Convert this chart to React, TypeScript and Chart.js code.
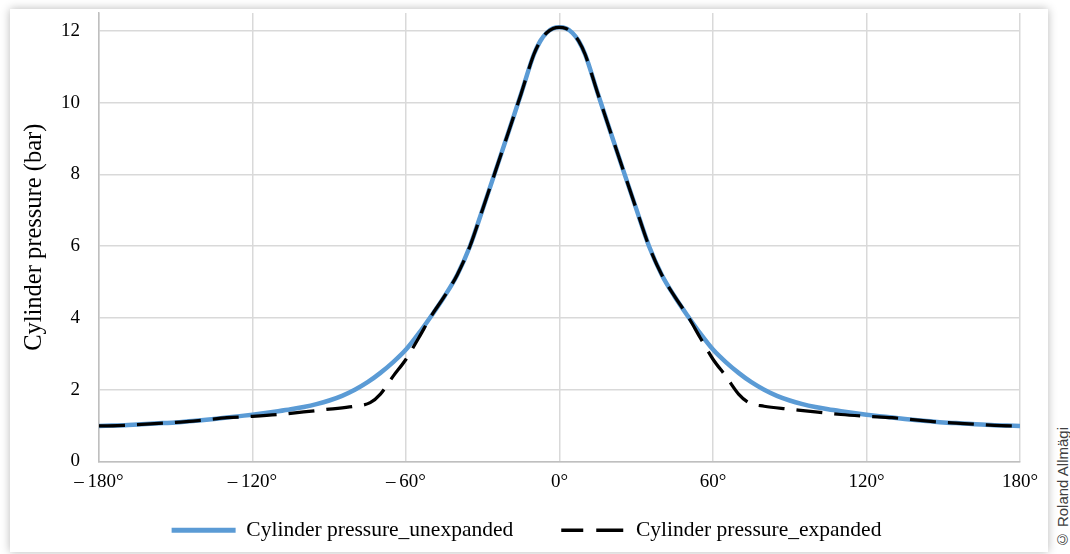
import React, { useEffect, useRef } from "react";
import { Chart, registerables } from "chart.js";

Chart.register(...registerables);

// Crank angle (degrees) for the unexpanded curve
const angles: number[] = [
  -180, -175, -170, -165, -160, -155, -150, -145, -140, -135, -130, -125, -120,
  -115, -110, -105, -100, -95, -90, -85, -80, -75, -70, -65, -60, -55, -50,
  -45, -40, -35, -30, -25, -20, -15, -10, -7.5, -5, -2.5, 0, 2.5, 5, 7.5, 10,
  15, 20, 25, 30, 35, 40, 45, 50, 55, 60, 65, 70, 75, 80, 85, 90, 95, 100, 105,
  110, 115, 120, 125, 130, 135, 140, 145, 150, 155, 160, 165, 170, 175, 180,
];

// Cylinder pressure_unexpanded (bar)
const unexpandedValues: number[] = [
  0.99, 1.0, 1.01, 1.03, 1.05, 1.07, 1.09, 1.12, 1.15, 1.185, 1.225, 1.265,
  1.305, 1.35, 1.4, 1.455, 1.52, 1.6, 1.7, 1.83, 2.0, 2.21, 2.47, 2.77, 3.12,
  3.57, 4.07, 4.6, 5.2, 6.0, 7.04, 8.1, 9.17, 10.25, 11.35, 11.72, 11.95,
  12.07, 12.1, 12.07, 11.95, 11.72, 11.35, 10.25, 9.17, 8.1, 7.04, 6.0, 5.2,
  4.6, 4.07, 3.57, 3.12, 2.77, 2.47, 2.21, 2.0, 1.83, 1.7, 1.6, 1.52, 1.455,
  1.4, 1.35, 1.305, 1.265, 1.225, 1.185, 1.15, 1.12, 1.09, 1.07, 1.05, 1.03,
  1.01, 1.0, 0.99,
];

// Crank angle (degrees) for the expanded curve
const expandedAngles: number[] = [
  -180, -170, -160, -150, -140, -130, -120, -110, -100, -90, -80, -74, -70,
  -65, -60, -55, -50, -45, -40, -35, -30, -25, -20, -15, -10, -7.5, -5, -2.5,
  0, 2.5, 5, 7.5, 10, 15, 20, 25, 30, 35, 40, 45, 50, 55, 60, 65, 70, 74, 80,
  90, 100, 110, 120, 130, 140, 150, 160, 170, 180,
];

// Cylinder pressure_expanded (bar)
const expandedValues: number[] = [
  0.99, 1.01, 1.05, 1.09, 1.15, 1.22, 1.26, 1.31, 1.38, 1.46, 1.54, 1.64, 1.88,
  2.38, 2.85, 3.45, 4.07, 4.6, 5.2, 6.0, 7.04, 8.1, 9.17, 10.25, 11.35, 11.72,
  11.95, 12.07, 12.1, 12.07, 11.95, 11.72, 11.35, 10.25, 9.17, 8.1, 7.04, 6.0,
  5.2, 4.6, 4.07, 3.45, 2.85, 2.38, 1.88, 1.64, 1.54, 1.46, 1.38, 1.31, 1.26,
  1.22, 1.15, 1.09, 1.05, 1.01, 0.99,
];

const xTicks: number[] = [-180, -120, -60, 0, 60, 120, 180];
const yTicks: number[] = [0, 2, 4, 6, 8, 10, 12];

const seriesNames: string[] = [
  "Cylinder pressure_unexpanded",
  "Cylinder pressure_expanded",
];

const SERIF = "'Liberation Serif', 'Times New Roman', serif";
const BLUE = "#5B9BD5";

function formatAngle(v: number): string {
  if (v < 0) return "\u2013\u2009" + Math.abs(v) + "\u00B0";
  return v + "\u00B0";
}

export default function App() {
  const canvasRef = useRef<HTMLCanvasElement | null>(null);

  useEffect(() => {
    const canvas = canvasRef.current;
    if (!canvas) return;
    const chart = new Chart(canvas, {
      type: "line",
      data: {
        datasets: [
          {
            label: seriesNames[0],
            data: angles.map((a, i) => ({ x: a, y: unexpandedValues[i] })),
            borderColor: BLUE,
            backgroundColor: BLUE,
            borderWidth: 4.5,
            pointRadius: 0,
            cubicInterpolationMode: "monotone",
            fill: false,
            order: 2,
          },
          {
            label: seriesNames[1],
            data: expandedAngles.map((a, i) => ({ x: a, y: expandedValues[i] })),
            borderColor: "#000000",
            backgroundColor: "#000000",
            borderWidth: 3.25,
            borderDash: [26, 12],
            pointRadius: 0,
            cubicInterpolationMode: "monotone",
            fill: false,
            order: 1,
          },
        ],
      },
      options: {
        responsive: false,
        animation: false,
        devicePixelRatio: 1,
        layout: { padding: { top: 4, right: 28, left: 23, bottom: 0 } },
        plugins: {
          tooltip: { enabled: false },
          legend: {
            display: true,
            position: "bottom",
            title: {
              display: true,
              text: "",
              font: { family: SERIF, size: 10, lineHeight: 1 },
              padding: { top: 0, bottom: -30 },
            },
            labels: {
              usePointStyle: true,
              pointStyleWidth: 64,
              padding: 48,
              color: "#000",
              font: { family: SERIF, size: 21.5 },
              generateLabels: () => [
                {
                  text: seriesNames[0],
                  strokeStyle: BLUE,
                  fillStyle: BLUE,
                  lineWidth: 5,
                  lineDash: [],
                  pointStyle: "line",
                  hidden: false,
                  datasetIndex: 0,
                  fontColor: "#000",
                } as any,
                {
                  text: seriesNames[1],
                  strokeStyle: "#000",
                  fillStyle: "#000",
                  lineWidth: 3.5,
                  lineDash: [27, 13],
                  lineDashOffset: 5,
                  pointStyle: "line",
                  hidden: false,
                  datasetIndex: 1,
                  fontColor: "#000",
                } as any,
              ],
            },
          },
        },
        scales: {
          x: {
            type: "linear",
            min: -180,
            max: 180,
            afterBuildTicks: (scale: any) => {
              scale.ticks = xTicks.map((v) => ({ value: v }));
            },
            afterFit: (scale: any) => {
              scale.height = 30;
              scale.paddingLeft = 0;
              scale.paddingRight = 0;
            },
            grid: { color: "#d9d9d9", lineWidth: 1.5, drawTicks: false },
            border: { display: true, color: "#bfbfbf", width: 1.5 },
            ticks: {
              padding: 9,
              color: "#000",
              font: { family: SERIF, size: 19 },
              maxRotation: 0,
              autoSkip: false,
              callback: (v: any) => formatAngle(Number(v)),
            },
          },
          y: {
            type: "linear",
            min: 0,
            max: 12.5,
            afterBuildTicks: (scale: any) => {
              scale.ticks = yTicks.map((v) => ({ value: v }));
            },
            afterFit: (scale: any) => {
              scale.width = 66;
              scale.paddingTop = 0;
              scale.paddingBottom = 0;
            },
            grid: { color: "#d9d9d9", lineWidth: 1.5, drawTicks: false },
            border: { display: true, color: "#bfbfbf", width: 1.5 },
            ticks: {
              padding: 19,
              color: "#000",
              font: { family: SERIF, size: 19 },
              callback: (v: any) => String(v),
            },
            title: {
              display: true,
              text: "Cylinder pressure (bar)",
              color: "#000",
              font: { family: SERIF, size: 24.5 },
              padding: { top: -12.7, bottom: 0 },
            },
          },
        },
      },
    });
    return () => chart.destroy();
  }, []);

  return (
    <div
      style={{
        position: "fixed",
        left: 0,
        top: 0,
        width: 1070,
        height: 554,
        background: "#ffffff",
        overflow: "hidden",
      }}
    >
      <div
        style={{
          position: "absolute",
          left: 10,
          top: 9,
          width: 1038,
          height: 543,
          background: "#ffffff",
          boxShadow: "0 0 9px rgba(0,0,0,0.28)",
        }}
      >
        <canvas
          ref={canvasRef}
          width={1038}
          height={542}
          style={{ position: "absolute", left: 0, top: 0, width: 1038, height: 542 }}
        />
      </div>
      <div
        style={{
          position: "absolute",
          left: 1055,
          bottom: 6,
          writingMode: "vertical-rl",
          transform: "rotate(180deg)",
          fontFamily: "'Liberation Sans', Arial, sans-serif",
          fontSize: 15,
          color: "#404040",
          whiteSpace: "nowrap",
          lineHeight: "15px",
        }}
      >
        © Roland Allmägi
      </div>
    </div>
  );
}
